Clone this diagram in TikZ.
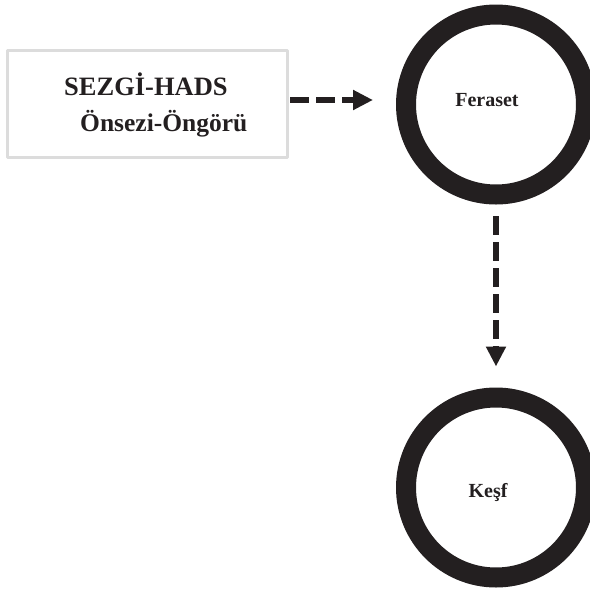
\documentclass[tikz,border=0pt]{standalone}
\usepackage{fontspec}
\setmainfont{Liberation Serif}
\usetikzlibrary{arrows.meta,positioning}
\definecolor{koyu}{HTML}{231F20}
\definecolor{gri}{HTML}{DCDCDC}
\begin{document}
\begin{tikzpicture}[x=1pt, y=-1pt, line join=round, >={Triangle[length=20pt,width=19pt]},
	halka/.style={circle, draw=koyu, line width=20pt, minimum size=180pt, inner sep=0pt},
	kutu/.style={draw=gri, line width=3pt, minimum width=280pt, minimum height=107pt, inner sep=0pt},
	ok/.style={->, draw=koyu, line width=6pt, dash pattern=on 19pt off 7pt},
	yazi/.style={text=koyu, inner sep=0pt}]
	\useasboundingbox (0,0) rectangle (590,590);
	%% Khai bao diem
	\path 
	(147.5,104) coordinate (K)
	(496,104.5) coordinate (F)
	(496,487.5) coordinate (S)
	;
	%% kutu ve halkalar
	\node[kutu] (kutu) at (K) {};
	\node[halka] (fer) at (F) {};
	\node[halka] (kesf) at (S) {};
	%% yazilar
	\node[yazi, anchor=base west, font=\bfseries\fontsize{26.5}{30}\selectfont] (sezgi) at (64,95) {SEZGİ-HADS};
	\node[yazi, anchor=base west, font=\bfseries\fontsize{25.5}{30}\selectfont] (onsezi) at (80,131) {Önsezi-Öngörü};
	\node[yazi, anchor=base, font=\bfseries\fontsize{20}{24}\selectfont] (fertext) at (487,106) {Feraset};
	\node[yazi, anchor=base, font=\bfseries\fontsize{20}{24}\selectfont] (kesftext) at (488,497) {Keşf};
	%% oklar
	\draw[ok, shorten <=1pt, shorten >=23pt] ([yshift=4pt]kutu.east) -- ([yshift=4pt]kutu.east -| fer.west);
	\draw[ok, shorten <=11.5pt, shorten >=21pt] (fer.south) -- (kesf.north);
\end{tikzpicture}
\end{document}
